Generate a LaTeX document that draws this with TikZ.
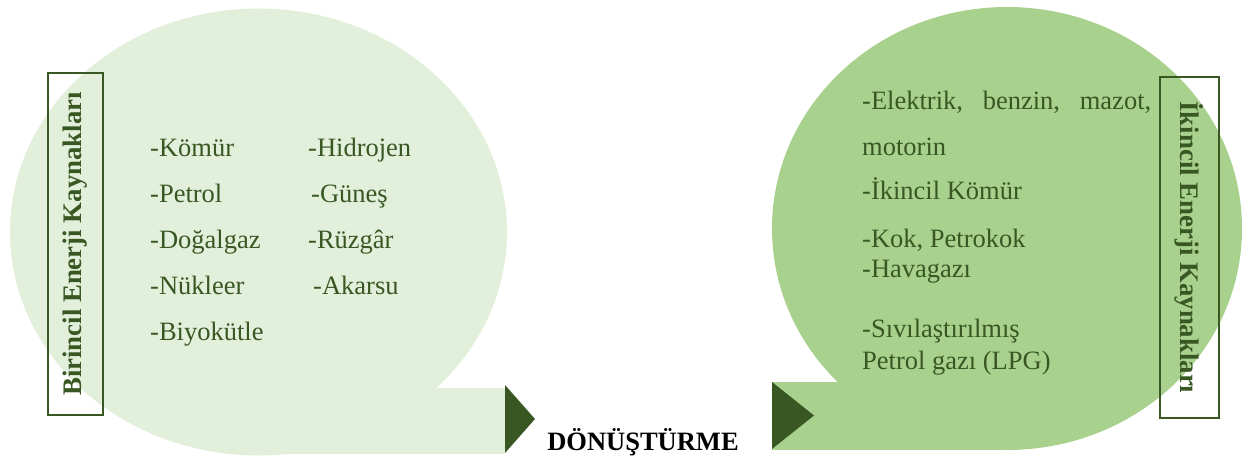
\documentclass[tikz,border=0pt]{standalone}
\usepackage{fontspec}
\setmainfont{Liberation Serif}
\definecolor{palegreen}{HTML}{E2EFDA}
\definecolor{midgreen}{HTML}{A9D18E}
\definecolor{darkgreen}{HTML}{385723}
\tikzset{
  item/.style={anchor=base west, inner sep=0pt, text=darkgreen,
    font=\fontsize{26.5}{30}\selectfont},
  titlebox/.style={draw=darkgreen, line width=2.8pt, inner sep=0pt,
    text=darkgreen, font=\fontsize{26.8}{30}\selectfont\bfseries},
  pointer/.style={fill=darkgreen, draw=none},
}
\begin{document}
\begin{tikzpicture}[x=1pt,y=-1pt]
\useasboundingbox (0,0) rectangle (1244,457);

% primary sources bubble with its tail
\fill[palegreen] (258.5,232) ellipse [x radius=248.5, y radius=223.5];
\fill[palegreen] (259,388) rectangle (505,453.5);
\fill[pointer] (505,385) -- (535,419) -- (505,453) -- cycle;

% secondary sources bubble with its tail
\fill[midgreen] (1007,228.5) ellipse [x radius=235, y radius=221.5];
\fill[midgreen] (772,382) rectangle (1007,449.5);
\fill[pointer] (772,382) -- (814,415.5) -- (772,449) -- cycle;

% side titles
\node[titlebox, rotate=90, minimum width=342pt, minimum height=55pt]
  (birincil) at (75.5,244) {Birincil Enerji Kaynakları};
\node[titlebox, rotate=-90, minimum width=341pt, minimum height=59pt]
  (ikincil) at (1189.5,247.5) {İkincil Enerji Kaynakları};

% primary sources list
\node[item] (komur)    at (150,157) {-Kömür};
\node[item] (petrol)   at (150,203) {-Petrol};
\node[item] (dogalgaz) at (150,248) {-Doğalgaz};
\node[item] (nukleer)  at (150,294) {-Nükleer};
\node[item] (biyo)     at (150,340) {-Biyokütle};
\node[item] (hidrojen) at (308,157) {-Hidrojen};
\node[item] (gunes)    at (311,203) {-Güneş};
\node[item] (ruzgar)   at (308,248) {-Rüzgâr};
\node[item] (akarsu)   at (313,294) {-Akarsu};

% secondary sources list
\node[item] (elektrik) at (862,110) {\makebox[289pt][s]{-Elektrik, benzin, mazot,}};
\node[item] (motorin)  at (862,156) {motorin};
\node[item] (ikkomur)  at (862,200) {-İkincil Kömür};
\node[item] (kok)      at (862,247) {-Kok, Petrokok};
\node[item] (havagazi) at (862,277) {-Havagazı};
\node[item] (siv)      at (862,337) {-Sıvılaştırılmış};
\node[item] (lpg)      at (862,369) {Petrol gazı (LPG)};

% conversion label
\node[anchor=base, inner sep=0pt, font=\fontsize{26.5}{30}\selectfont\bfseries]
  (donusturme) at (643,450) {DÖNÜŞTÜRME};
\end{tikzpicture}
\end{document}
